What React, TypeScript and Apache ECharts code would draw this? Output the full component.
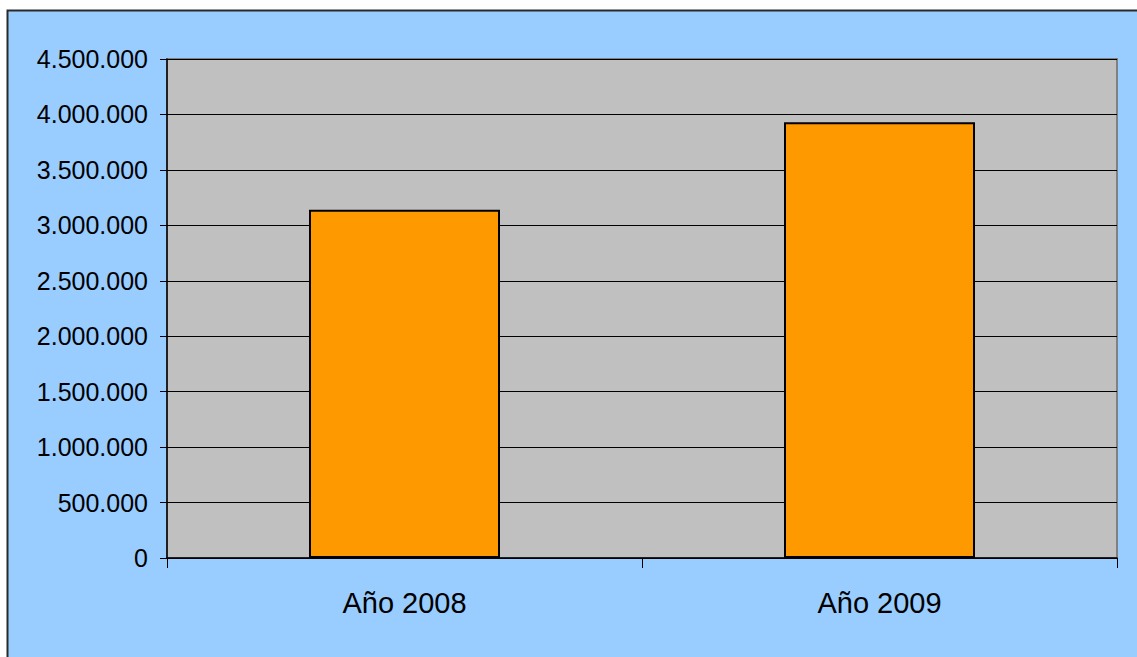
import React, { useEffect, useRef } from "react";
import * as echarts from "echarts";

const categories = ["Año 2008", "Año 2009"];
const values = [3140000, 3930000];
const yMin = 0;
const yMax = 4500000;
const yInterval = 500000;

const formatThousands = (v: number) =>
  String(Math.round(v)).replace(/\B(?=(\d{3})+(?!\d))/g, ".");

export default function App() {
  const ref = useRef<HTMLDivElement>(null);
  useEffect(() => {
    if (!ref.current) return;
    const chart = echarts.init(ref.current, undefined, { renderer: "svg" });
    const font = "'Liberation Sans', Arial, sans-serif";
    chart.setOption({
      animation: false,
      backgroundColor: "#ffffff",
      graphic: [
        {
          type: "rect",
          z: -10,
          silent: true,
          shape: { x: 7.5, y: 10.5, width: 1140, height: 660 },
          style: { fill: "#99CCFF", stroke: "#2a2a2a", lineWidth: 2 },
        },
      ],
      grid: {
        left: 167,
        top: 59,
        right: 20,
        bottom: 99,
        show: true,
        backgroundColor: "#C0C0C0",
        borderColor: "#808080",
        borderWidth: 2,
        z: 0,
      },
      xAxis: {
        type: "category",
        data: categories,
        boundaryGap: true,
        axisLine: { show: true, lineStyle: { color: "#000", width: 1.5 } },
        axisTick: { show: true, length: 10, interval: 0, alignWithLabel: false, lineStyle: { color: "#000" } },
        axisLabel: { color: "#000", fontSize: 29, fontFamily: font, margin: 30 },
      },
      yAxis: {
        type: "value",
        min: yMin,
        max: yMax,
        interval: yInterval,
        axisLine: { show: true, lineStyle: { color: "#000", width: 1.5 } },
        axisTick: { show: true, length: 7, lineStyle: { color: "#000" } },
        axisLabel: {
          color: "#000",
          fontSize: 25,
          fontFamily: font,
          margin: 19,
          formatter: (v: number) => formatThousands(v),
        },
        splitLine: { show: true, lineStyle: { color: "#000", width: 1 } },
      },
      series: [
        {
          type: "bar",
          data: values,
          barWidth: 191,
          itemStyle: { color: "#FF9900", borderColor: "#000", borderWidth: 2 },
        },
      ],
    });
    return () => chart.dispose();
  }, []);
  return (
    <div
      ref={ref}
      style={{ position: "fixed", left: 0, top: 0, width: 1137, height: 657 }}
    />
  );
}
